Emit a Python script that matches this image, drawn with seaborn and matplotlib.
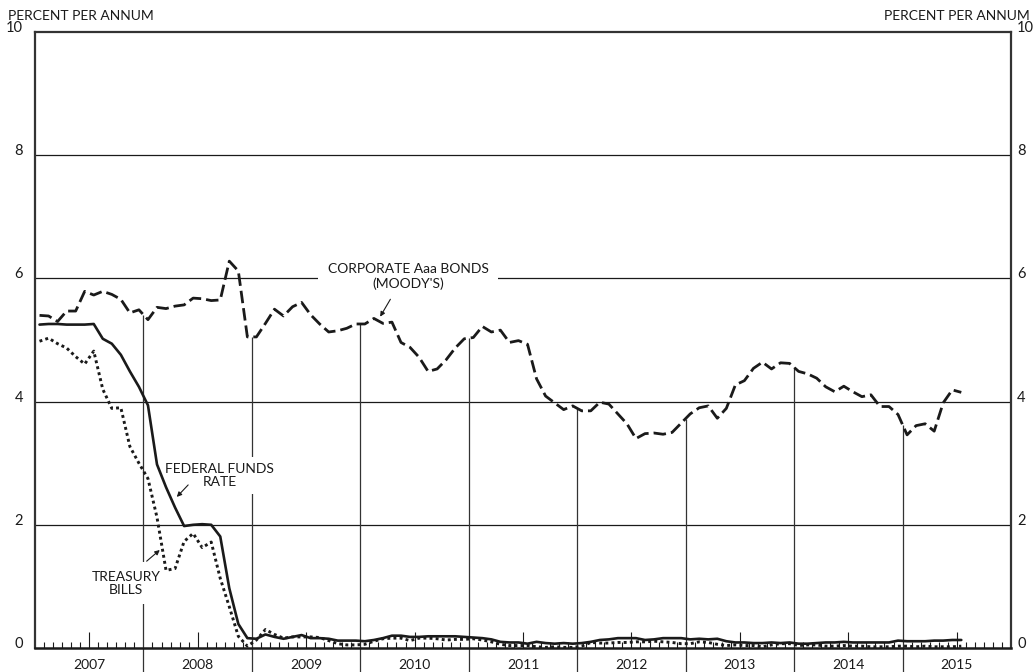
import matplotlib
matplotlib.use("Agg")
import matplotlib.pyplot as plt
import numpy as np
import pandas as pd
import seaborn as sns

# Monthly averages, Jan 2007 - Jul 2015 (percent per annum)
months = pd.date_range("2007-01-01", "2015-07-01", freq="MS")

fed_funds = [
    5.25, 5.26, 5.26, 5.25, 5.25, 5.25, 5.26, 5.02, 4.94, 4.76, 4.49, 4.24,
    3.94, 2.98, 2.61, 2.28, 1.98, 2.00, 2.01, 2.00, 1.81, 0.97, 0.39, 0.16,
    0.15, 0.22, 0.18, 0.15, 0.18, 0.21, 0.16, 0.16, 0.15, 0.12, 0.12, 0.12,
    0.11, 0.13, 0.16, 0.20, 0.20, 0.18, 0.18, 0.19, 0.19, 0.19, 0.19, 0.18,
    0.17, 0.16, 0.14, 0.10, 0.09, 0.09, 0.07, 0.10, 0.08, 0.07, 0.08, 0.07,
    0.08, 0.10, 0.13, 0.14, 0.16, 0.16, 0.16, 0.13, 0.14, 0.16, 0.16, 0.16,
    0.14, 0.15, 0.14, 0.15, 0.11, 0.09, 0.09, 0.08, 0.08, 0.09, 0.08, 0.09,
    0.07, 0.07, 0.08, 0.09, 0.09, 0.10, 0.09, 0.09, 0.09, 0.09, 0.09, 0.12,
    0.11, 0.11, 0.11, 0.12, 0.12, 0.13, 0.13,
]

treasury_bills = [
    4.98, 5.03, 4.94, 4.87, 4.73, 4.61, 4.82, 4.20, 3.89, 3.90, 3.27, 3.00,
    2.75, 2.12, 1.26, 1.29, 1.73, 1.86, 1.63, 1.72, 1.13, 0.67, 0.19, 0.03,
    0.13, 0.30, 0.22, 0.16, 0.18, 0.18, 0.18, 0.17, 0.12, 0.07, 0.05, 0.05,
    0.06, 0.11, 0.15, 0.16, 0.16, 0.12, 0.16, 0.16, 0.15, 0.13, 0.14, 0.14,
    0.15, 0.13, 0.10, 0.06, 0.04, 0.04, 0.04, 0.02, 0.01, 0.02, 0.01, 0.01,
    0.03, 0.09, 0.08, 0.08, 0.09, 0.09, 0.10, 0.10, 0.11, 0.10, 0.09, 0.07,
    0.07, 0.10, 0.09, 0.06, 0.04, 0.05, 0.04, 0.04, 0.02, 0.05, 0.07, 0.07,
    0.04, 0.05, 0.05, 0.03, 0.03, 0.04, 0.03, 0.03, 0.02, 0.02, 0.02, 0.03,
    0.03, 0.02, 0.03, 0.02, 0.02, 0.02, 0.03,
]

corporate_aaa = [
    5.40, 5.39, 5.30, 5.47, 5.47, 5.79, 5.73, 5.79, 5.74, 5.66, 5.44, 5.49,
    5.33, 5.53, 5.51, 5.55, 5.57, 5.68, 5.67, 5.64, 5.65, 6.28, 6.12, 5.05,
    5.05, 5.27, 5.50, 5.39, 5.54, 5.61, 5.41, 5.26, 5.13, 5.15, 5.19, 5.26,
    5.26, 5.35, 5.27, 5.29, 4.96, 4.88, 4.72, 4.49, 4.53, 4.68, 4.87, 5.02,
    5.04, 5.22, 5.13, 5.16, 4.96, 4.99, 4.93, 4.37, 4.09, 3.98, 3.87, 3.93,
    3.85, 3.85, 3.99, 3.96, 3.80, 3.64, 3.40, 3.48, 3.49, 3.47, 3.50, 3.65,
    3.80, 3.90, 3.93, 3.73, 3.89, 4.27, 4.34, 4.54, 4.64, 4.53, 4.63, 4.62,
    4.49, 4.45, 4.38, 4.24, 4.16, 4.25, 4.16, 4.08, 4.11, 3.92, 3.92, 3.79,
    3.46, 3.61, 3.64, 3.52, 3.98, 4.19, 4.15,
]

years = list(range(2007, 2016))
year_labels = [str(y) for y in years]
y_ticks = [0, 2, 4, 6, 8, 10]

# decimal year, plotted at mid-month
t = months.year + (months.month - 0.5) / 12.0
df = pd.DataFrame({"t": t, "fed": fed_funds, "tbill": treasury_bills, "corp": corporate_aaa})

sns.set_theme(style="white")
plt.rcParams["font.family"] = ["Lato", "DejaVu Sans"]
ink = "#1a1a1a"
fs = 10

fig = plt.figure(figsize=(10.33, 6.72), dpi=100)
ax = fig.add_axes([35 / 1033, 24 / 672, 976 / 1033, 616 / 672])

# horizontal rules
for v in y_ticks[1:-1]:
    ax.axhline(v, color=ink, lw=0.9, zorder=1)

# year separators: from under the axis up to the bond line
bounds = np.array(years[1:], dtype=float)
corp_at = np.interp(bounds, df["t"], df["corp"])
ax.vlines(bounds, -0.40, corp_at, colors="#333333", lw=0.9, clip_on=False, zorder=1)

# month ticks along the base, a taller one at mid-year
xaxis_tr = ax.get_xaxis_transform()
month_ticks = [y + m / 12 for y in years for m in range(1, 12) if m != 6]
ax.vlines(month_ticks, 0, 6 / 616, colors=ink, lw=0.8, transform=xaxis_tr, zorder=2)
ax.vlines([y + 0.5 for y in years], 0, 16 / 616, colors=ink, lw=0.8, transform=xaxis_tr, zorder=2)

# the three series
sns.lineplot(data=df, x="t", y="corp", ax=ax, color=ink, lw=2.0,
             linestyle=(0, (4.5, 1.8)), zorder=4, clip_on=False)
sns.lineplot(data=df, x="t", y="fed", ax=ax, color=ink, lw=1.9, zorder=4, clip_on=False)
sns.lineplot(data=df, x="t", y="tbill", ax=ax, color=ink, lw=2.1,
             linestyle=(0, (1, 1.1)), zorder=4, clip_on=False)

ax.set_xlim(2007, 2016)
ax.set_ylim(0, 10)
ax.set_xlabel("")
ax.set_ylabel("")

# year labels centred in each year
ax.set_xticks([y + 0.5 for y in years], labels=year_labels)
ax.tick_params(axis="x", which="major", bottom=True, length=0, pad=8,
               labelsize=fs, labelcolor=ink)
ax.set_yticks([])

# y labels on both sides, sitting on their rules
for v in y_ticks:
    ax.text(-0.0123, v, str(v), transform=ax.get_yaxis_transform(), ha="right",
            va="baseline", fontsize=10.5, color=ink)
    ax.text(1.0062, v, str(v), transform=ax.get_yaxis_transform(), ha="left",
            va="baseline", fontsize=10.5, color=ink)

for side in ["left", "right", "top"]:
    ax.spines[side].set_linewidth(1.6)
    ax.spines[side].set_color("#333333")
ax.spines["bottom"].set_linewidth(1.8)
ax.spines["bottom"].set_color(ink)

fig.text(8 / 1033, 1 - 16 / 672, "PERCENT PER ANNUM", ha="left", va="center",
         fontsize=fs, color=ink)
fig.text(1030 / 1033, 1 - 16 / 672, "PERCENT PER ANNUM", ha="right", va="center",
         fontsize=fs, color=ink)

# series labels with arrows
ax.text(2010.44, 6.03, "CORPORATE Aaa BONDS\n(MOODY'S)", ha="center", va="center",
        fontsize=fs, color=ink, linespacing=1.15, zorder=3,
        bbox=dict(facecolor="white", edgecolor="none", pad=7))
ax.annotate("", xy=(2010.17, 5.34), xytext=(2010.29, 5.70),
            arrowprops=dict(arrowstyle="-|>", lw=0.8, color=ink, mutation_scale=7), zorder=5)

ax.text(2008.70, 2.80, "FEDERAL FUNDS\nRATE", ha="center", va="center",
        fontsize=fs, color=ink, linespacing=1.15, zorder=3,
        bbox=dict(facecolor="white", edgecolor="none", pad=4))
ax.annotate("", xy=(2008.29, 2.42), xytext=(2008.43, 2.68),
            arrowprops=dict(arrowstyle="-|>", lw=0.8, color=ink, mutation_scale=7), zorder=5)

ax.text(2007.84, 1.05, "TREASURY\nBILLS", ha="center", va="center",
        fontsize=fs, color=ink, linespacing=1.15, zorder=3,
        bbox=dict(facecolor="white", edgecolor="none", pad=6))
ax.annotate("", xy=(2008.17, 1.62), xytext=(2008.01, 1.38),
            arrowprops=dict(arrowstyle="-|>", lw=0.8, color=ink, mutation_scale=7), zorder=5)

fig.savefig("out.png", dpi=100)
